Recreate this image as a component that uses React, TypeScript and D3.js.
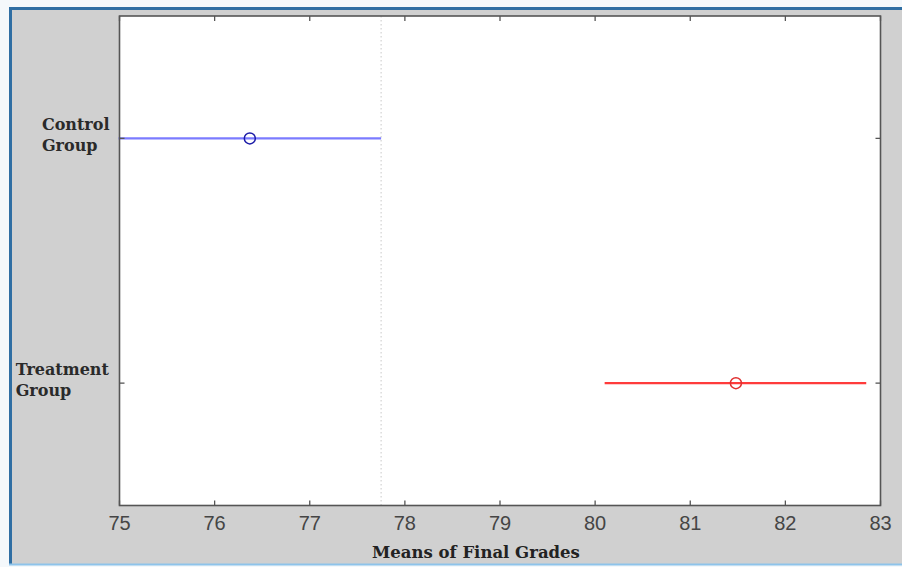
import React, { useEffect, useRef } from "react";
import * as d3 from "d3";

const groups = ["Control Group", "Treatment Group"];
const groupLines = [["Control", "Group"], ["Treatment", "Group"]];
const yPositions = [2, 1];
const means = [76.37, 81.48];
const lowers = [74.99, 80.1];
const uppers = [77.75, 82.85];
const lineColors = ["#7b7bff", "#ff3b3b"];
const markerColors = ["#1c1ca8", "#e03030"];
const xTicks = [75, 76, 77, 78, 79, 80, 81, 82, 83];
const xDomain = [75, 83];
const yDomain = [0.5, 2.5];
const xLabel = "Means of Final Grades";

const W = 902;
const H = 567;
const M = { left: 119.5, right: 880.5, top: 16, bottom: 505.5 };

export default function App() {
  const ref = useRef<SVGSVGElement>(null);

  useEffect(() => {
    const svg = d3.select(ref.current);
    svg.selectAll("*").remove();

    const x = d3.scaleLinear().domain(xDomain).range([M.left, M.right]);
    const y = d3.scaleLinear().domain(yDomain).range([M.bottom, M.top]);

    // page background & frame
    svg.append("rect").attr("x", 0).attr("y", 0).attr("width", W).attr("height", H).attr("fill", "#f4f8fb");
    svg.append("rect").attr("x", 10).attr("y", 8).attr("width", W - 10).attr("height", 556).attr("fill", "#d0d0d0");
    svg.append("line").attr("x1", 9).attr("x2", W).attr("y1", 8.5).attr("y2", 8.5).attr("stroke", "#2f6ea3").attr("stroke-width", 3);
    svg.append("line").attr("x1", 10.5).attr("x2", 10.5).attr("y1", 7).attr("y2", 565).attr("stroke", "#2f6ea3").attr("stroke-width", 3);
    svg.append("line").attr("x1", 9).attr("x2", W).attr("y1", 564.5).attr("y2", 564.5).attr("stroke", "#8ec3ea").attr("stroke-width", 2);

    // plot area
    svg.append("rect").attr("x", M.left).attr("y", M.top).attr("width", M.right - M.left).attr("height", M.bottom - M.top).attr("fill", "#ffffff");

    // reference dotted line at control upper bound
    svg.append("line")
      .attr("x1", x(uppers[0])).attr("x2", x(uppers[0]))
      .attr("y1", M.top).attr("y2", M.bottom)
      .attr("stroke", "#c8c8c8").attr("stroke-width", 1).attr("stroke-dasharray", "1.5,2.5");

    // intervals
    groups.forEach((g, i) => {
      svg.append("line")
        .attr("x1", x(lowers[i])).attr("x2", x(uppers[i]))
        .attr("y1", y(yPositions[i])).attr("y2", y(yPositions[i]))
        .attr("stroke", lineColors[i]).attr("stroke-width", 2.2);
      svg.append("circle")
        .attr("cx", x(means[i])).attr("cy", y(yPositions[i])).attr("r", 5.5)
        .attr("fill", "none").attr("stroke", markerColors[i]).attr("stroke-width", 1.5);
    });

    // axes box
    const axisColor = "#555555";
    svg.append("rect").attr("x", M.left).attr("y", M.top).attr("width", M.right - M.left).attr("height", M.bottom - M.top)
      .attr("fill", "none").attr("stroke", axisColor).attr("stroke-width", 1.6);

    // x ticks (bottom and top, inward)
    xTicks.forEach((t) => {
      svg.append("line").attr("x1", x(t)).attr("x2", x(t)).attr("y1", M.bottom).attr("y2", M.bottom - 5).attr("stroke", axisColor).attr("stroke-width", 1.3);
      svg.append("line").attr("x1", x(t)).attr("x2", x(t)).attr("y1", M.top).attr("y2", M.top + 5).attr("stroke", axisColor).attr("stroke-width", 1.3);
      svg.append("text").attr("x", x(t)).attr("y", 530)
        .attr("text-anchor", "middle")
        .attr("font-family", "'Liberation Sans', Arial, sans-serif")
        .attr("font-size", 20).attr("fill", "#454545")
        .text(String(t));
    });

    // y ticks (left and right, inward)
    yPositions.forEach((p) => {
      svg.append("line").attr("x1", M.left).attr("x2", M.left + 5).attr("y1", y(p)).attr("y2", y(p)).attr("stroke", axisColor).attr("stroke-width", 1.3);
      svg.append("line").attr("x1", M.right).attr("x2", M.right - 5).attr("y1", y(p)).attr("y2", y(p)).attr("stroke", axisColor).attr("stroke-width", 1.3);
    });

    // y tick labels (two lines, block right-aligned, lines left-aligned)
    groupLines.forEach((lines, i) => {
      const t = svg.append("text")
        .attr("font-family", "'DejaVu Serif', serif")
        .attr("font-weight", "bold")
        .attr("font-size", 16)
        .attr("fill", "#2a2a2a");
      lines.forEach((l, k) => {
        t.append("tspan").attr("x", 0).attr("y", y(yPositions[i]) - 8 + k * 21).text(l);
      });
      const node = t.node() as SVGTextElement;
      const w = node.getBBox().width;
      const x0 = M.left - 10 - w;
      t.selectAll("tspan").attr("x", x0);
    });

    // x label
    svg.append("text").attr("x", 476).attr("y", 558)
      .attr("text-anchor", "middle")
      .attr("font-family", "'DejaVu Serif', serif")
      .attr("font-weight", "bold")
      .attr("font-size", 16.5)
      .attr("fill", "#222")
      .text(xLabel);
  }, []);

  return (
    <div style={{ position: "absolute", left: 0, top: 0 }}>
      <svg ref={ref} width={W} height={H} style={{ display: "block" }} />
    </div>
  );
}
